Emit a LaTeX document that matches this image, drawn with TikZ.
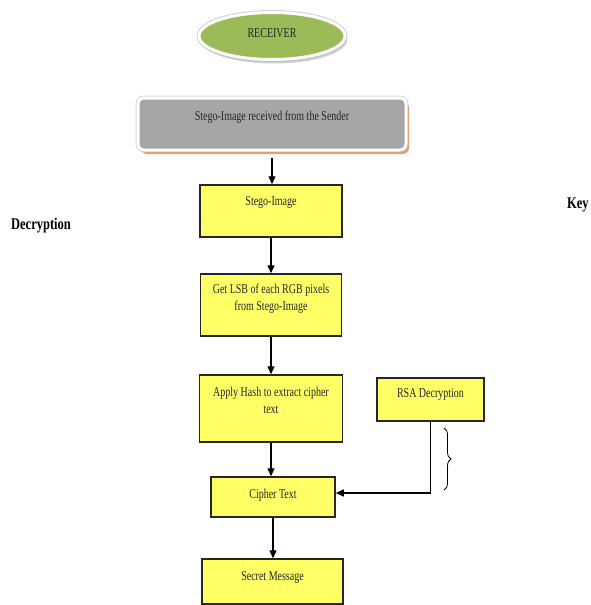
\documentclass[tikz,border=0pt]{standalone}
\usepackage{fontspec}
\setmainfont{Liberation Serif}
\usetikzlibrary{arrows.meta,shapes.geometric,shadows,decorations.pathreplacing}
\definecolor{boxyellow}{HTML}{FFFF66}
\definecolor{boxedge}{HTML}{262626}
\definecolor{recvgreen}{HTML}{9BBB59}
\definecolor{sendgray}{HTML}{A6A6A6}
\definecolor{sendshadow}{HTML}{D9A27E}
\newcommand\vtxt[1]{\scalebox{1}[1.35]{\begin{tabular}{@{}c@{}}#1\end{tabular}}}
\tikzset{
  ybox/.style={draw=boxedge, line width=1.5pt, fill=boxyellow, inner sep=0pt},
  txt/.style={font=\fontsize{10}{12.5}\selectfont, inner sep=0pt, text=black!85},
  side/.style={font=\fontsize{12.5}{14}\selectfont\bfseries, inner sep=0pt},
  arr/.style={draw=black, line width=1.3pt, -{Triangle[length=8pt,width=7pt]}},
  recvshape/.style={ellipse, fill=recvgreen, draw=white, line width=3pt,
    minimum width=146pt, minimum height=47pt, inner sep=0pt,
    preaction={draw=black!18, line width=5pt},
    drop shadow={shadow xshift=2pt, shadow yshift=-4pt, fill=black!30, opacity=0.6}},
  sendshape/.style={rounded corners=6pt, fill=sendgray, draw=white, line width=3pt,
    minimum width=268pt, minimum height=52pt, inner sep=0pt,
    preaction={draw=black!15, line width=5pt},
    drop shadow={shadow xshift=3pt, shadow yshift=-4pt, fill=sendshadow, opacity=1}}
}
\begin{document}
\begin{tikzpicture}[x=1pt,y=-1pt]
\useasboundingbox (0,0) rectangle (590,605);
\clip (0,0) rectangle (590,605);

\node[recvshape] (recv) at (272,36) {};
\node[txt] (recvt) at (272,34) {\vtxt{RECEIVER}};

\node[sendshape] (send) at (272,124) {};
\node[txt] (sendt) at (272,117) {\vtxt{Stego-Image received from the Sender}};

\node[ybox, minimum width=142pt, minimum height=52pt] (stego) at (271,211) {};
\node[txt] (stegot) at (271,202) {\vtxt{Stego-Image}};

\node[ybox, minimum width=141pt, minimum height=62pt] (lsb) at (271,305) {};
\node[txt] (lsbt) at (271,299) {\vtxt{Get LSB of each RGB pixels\\from Stego-Image}};

\node[ybox, minimum width=143pt, minimum height=67pt] (hash) at (271,408.5) {};
\node[txt] (hasht) at (271,401.5) {\vtxt{Apply Hash to extract cipher\\text}};

\node[ybox, minimum width=107pt, minimum height=43pt] (rsa) at (430.5,399.5) {};
\node[txt] (rsat) at (430.5,394) {\vtxt{RSA Decryption}};

\node[ybox, minimum width=124pt, minimum height=40pt] (cipher) at (273,497) {};
\node[txt] (ciphert) at (273,495) {\vtxt{Cipher Text}};

\node[ybox, minimum width=141pt, minimum height=45pt] (secret) at (272.5,581.5) {};
\node[txt] (secrett) at (272.5,577) {\vtxt{Secret Message}};

\node[side] (dec) at (41,226) {\scalebox{1}[1.3]{Decryption}};
\node[side, anchor=west] (key) at (567,205) {\scalebox{1}[1.3]{Key}};

\draw[arr, shorten <=6pt] (send.south) -- (send.south |- stego.north);
\draw[arr] (stego.south) -- (stego.south |- lsb.north);
\draw[arr] (lsb.south) -- (lsb.south |- hash.north);
\draw[arr] (hash.south) -- (hash.south |- cipher.north);
\draw[arr] (cipher.south) -- (cipher.south |- secret.north);
\draw[arr] (rsa.south) |- ([yshift=4pt]cipher.east);

\coordinate (bracetop) at (444,428);
\coordinate (bracebot) at (444,490);
\draw[line width=0.8pt, decorate, decoration={brace, amplitude=7pt}] (bracetop) -- (bracebot);
\end{tikzpicture}
\end{document}
